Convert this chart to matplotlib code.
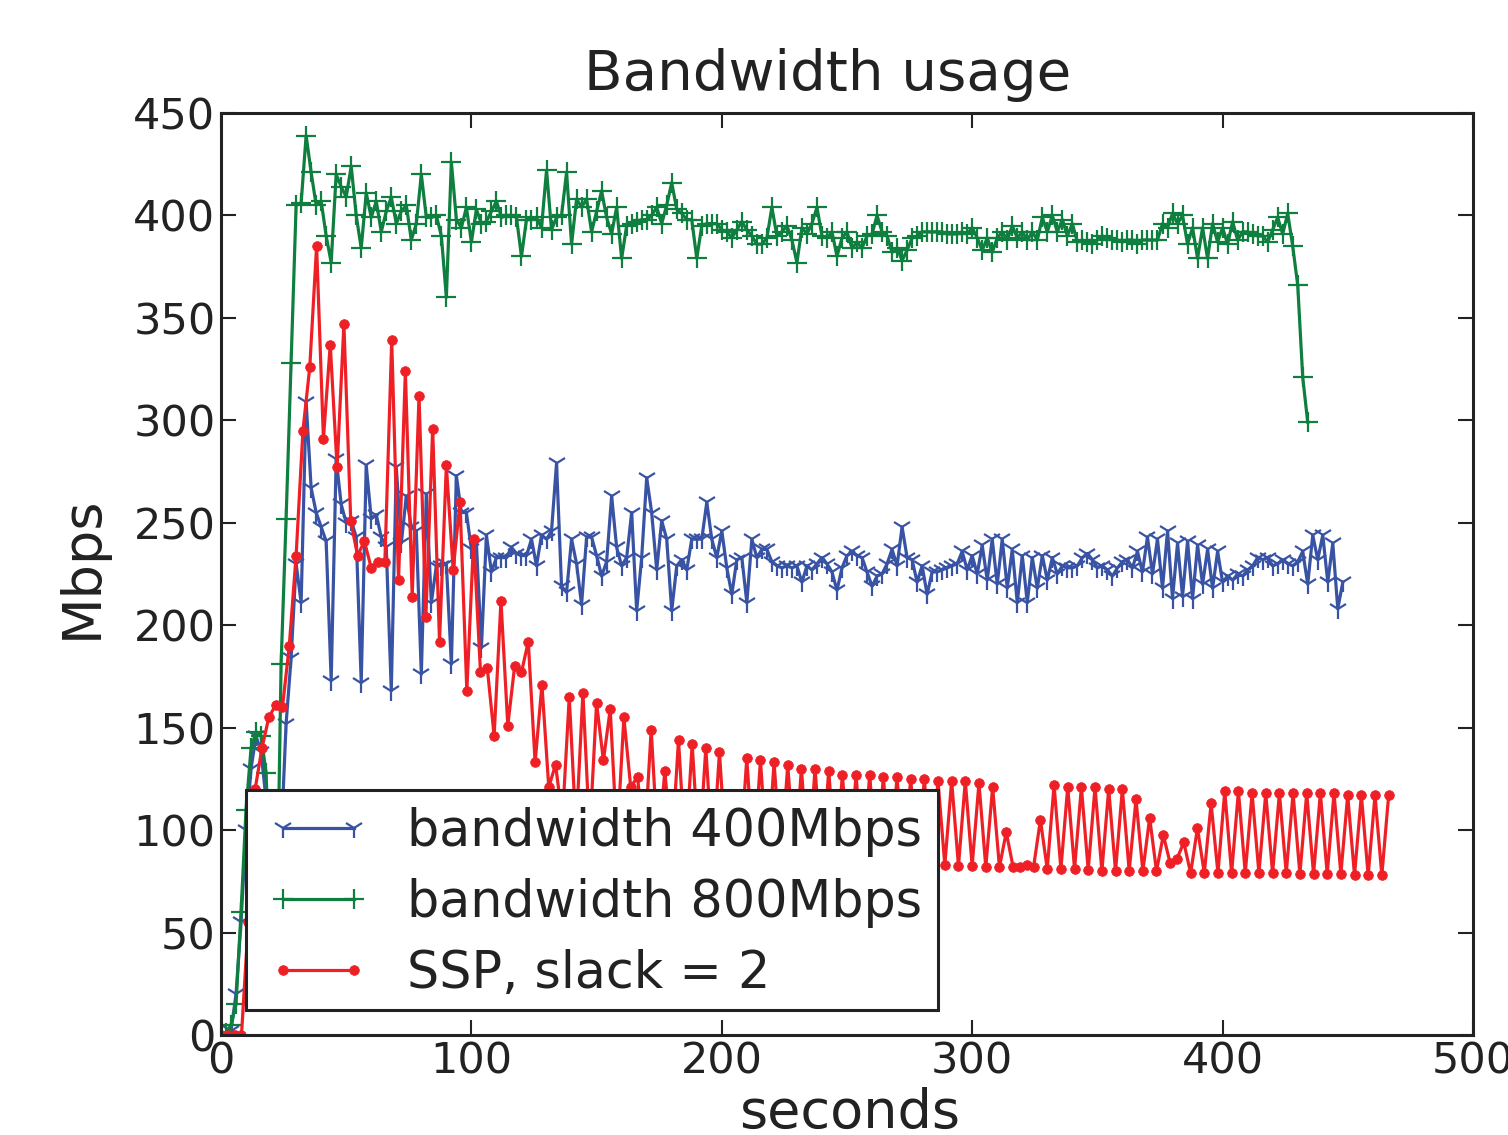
import numpy as np
import matplotlib
matplotlib.use("Agg")
import matplotlib.pyplot as plt
from matplotlib.patches import Rectangle

# ---------------- data ----------------
step_400 = 2.0      # seconds between samples, bandwidth 400Mbps
step_800 = 2.0      # seconds between samples, bandwidth 800Mbps
step_ssp = 2.727    # seconds between samples, SSP slack = 2

bw400 = [
    0, 0, 2, 20, 55, 100, 130, 146, 138, 115, 60, 20, 95, 152,
    184, 230, 211, 309, 267, 255, 248, 241, 173, 281, 259, 250, 251, 243, 172, 278,
    252, 254, 243, 238, 168, 277, 240, 263, 248, 246, 176, 264, 211, 229, 229, 230,
    181, 273, 255, 255, 237, 240, 189, 244, 226, 233, 233, 233, 238, 235, 234,
    234, 242, 229, 244, 242, 246, 279, 219, 216, 242, 230, 210, 243, 243, 234, 224,
    231, 263, 238, 229, 233, 255, 207, 233, 272, 255, 227, 251, 242, 207, 229, 232,
    227, 242, 242, 242, 260, 242, 233, 246, 228, 215, 232, 233, 211, 242, 233, 237,
    237, 231, 229, 228, 229, 228, 229, 221, 229, 227, 230, 233, 230, 226,
    217, 228, 234, 236, 234, 233, 226, 219, 224, 225, 230, 237, 229, 248, 233, 232,
    221, 229, 215, 226, 226, 227, 228, 229, 230, 236, 227,
    234, 225, 239, 222, 242, 220, 242, 218, 237, 211, 234, 211, 233, 218, 234, 222,
    233, 225, 229, 228, 228, 229, 233, 235, 232, 228, 229, 227, 224, 228, 231,
    232, 228, 236, 226, 243, 225, 242, 218, 246, 213, 240, 214, 241, 213, 239, 220,
    237, 218, 236, 221, 224, 222, 225, 224, 227, 229, 233, 232, 233, 229, 230, 232,
    230, 229, 231, 236, 220, 244, 232, 244, 221, 240, 208, 221,
]

bw800 = [
    0, 1, 5, 15, 60, 110, 140, 148, 146, 128, 60, 30, 181, 252,
    328, 405, 406, 439, 421, 405, 407, 390, 377, 420, 414, 409, 424, 400, 384, 411,
    399, 407, 392, 402, 409, 396, 402, 405, 388, 396, 420, 399, 399, 400, 390, 360,
    426, 398, 394, 404, 387, 403, 396, 397, 402, 407, 399, 400, 400, 399, 380, 398, 398,
    399, 394, 422, 393, 399, 400, 421, 386, 408, 404, 408, 392, 402, 412, 399, 391,
    404, 379, 395, 396, 397, 398, 398, 400, 404, 396, 405, 416, 403, 401, 398, 398,
    379, 395, 396, 396, 396, 393, 392, 389, 393, 397, 393, 390, 386, 386, 389, 404,
    390, 392, 395, 388, 377, 394, 391, 396, 404, 390, 389, 392, 380,
    389, 392, 384, 387, 384, 390, 391, 400, 392, 390, 382, 384, 378, 383, 389, 390,
    392, 392, 392, 392, 392, 391, 391, 391, 392, 391, 394, 389, 383, 389, 382, 389,
    392, 388, 395, 389, 392, 388, 392, 388, 399, 392, 400, 392, 398, 390, 396, 387,
    388, 387, 386, 388, 390, 389, 388, 388, 387, 388, 388, 386, 388, 388, 388, 388,
    396, 394, 401, 396, 400, 386, 394, 379, 394, 379, 396, 387, 394, 386, 397, 388,
    392, 392, 391, 390, 390, 387, 393, 399, 391, 401, 385, 366, 321, 299,
]

ssp = [
    0, 0, 0, 0, 55, 120, 140, 155, 161, 160, 190, 234, 295, 326, 385, 291,
    337, 277, 347, 251, 234, 241, 228, 231, 231, 339, 222, 324, 214, 312, 204, 296,
    192, 278, 227, 260, 168, 242, 177, 179, 146, 212, 151, 180, 177, 192, 133, 171,
    121, 132, 105, 165, 100, 167, 98, 162, 134, 159, 95, 155, 121, 126, 92, 149,
    90, 129, 90, 144, 88, 142, 88, 140, 87, 138, 86, 95, 86, 135, 85, 134,
    85, 133, 85, 132, 84, 130, 84, 130, 84, 129, 84, 127, 84, 127, 84, 127,
    83, 126, 83, 126, 83, 125, 83, 125, 83, 124, 83, 124, 82.5, 124, 82.5, 123,
    82, 121, 82, 99, 82, 82, 83, 82, 105, 81, 122, 81, 121, 81, 121, 80.5,
    121, 80, 120, 80, 120, 80, 115, 80, 106, 80, 97.5, 84, 86, 94, 79, 101,
    79, 113, 79, 119, 79, 119, 79, 118, 79, 118, 79, 118, 79, 118, 78.5, 118,
    78.5, 118, 78.5, 118, 78.5, 117, 78, 117, 78, 117, 78, 117,
]

labels = ["bandwidth 400Mbps", "bandwidth 800Mbps", "SSP, slack = 2"]
colors = ["#3953A4", "#0E7F3E", "#EE2026"]
x_ticks = [0, 100, 200, 300, 400, 500]
y_ticks = [0, 50, 100, 150, 200, 250, 300, 350, 400, 450]

# ---------------- figure ----------------
W, H, DPI = 1508, 1135, 100
fig = plt.figure(figsize=(W / DPI, H / DPI), dpi=DPI)
fig.patch.set_facecolor("white")
L, R, T, B = 221, 1473, 113, 1035
ax = fig.add_axes([L / W, 1 - B / H, (R - L) / W, (B - T) / H])

t400 = np.arange(len(bw400)) * step_400
t800 = np.arange(len(bw800)) * step_800
tssp = np.arange(len(ssp)) * step_ssp

ax.plot(t400, bw400, color=colors[0], lw=2.3, marker="1", ms=15, mew=1.6,
        label=labels[0])
ax.plot(t800, bw800, color=colors[1], lw=2.3, marker="+", ms=15, mew=1.6,
        label=labels[1])
ax.plot(tssp, ssp, color=colors[2], lw=2.3, marker="o", ms=7, mew=0.5,
        label=labels[2])

ax.set_xlim(0, 500)
ax.set_ylim(0, 450)
ax.set_xticks(x_ticks)
ax.set_yticks(y_ticks)
ax.tick_params(direction="in", length=11, width=1.5, top=True, right=True,
               labelsize=31, pad=4, colors="#222222", labelcolor="#222222")
for s in ax.spines.values():
    s.set_linewidth(2.2)
    s.set_color("#222222")

# legend box (frame drawn separately to match the reference proportions)
box = Rectangle(((246 - L) / (R - L), (B - 1010) / (B - T)),
                (938 - 246) / (R - L), (1010 - 790) / (B - T),
                transform=ax.transAxes, facecolor="white", edgecolor="#222222",
                linewidth=2.2, zorder=4.5, clip_on=False)
ax.add_patch(box)

leg = ax.legend(loc="lower left", bbox_to_anchor=(0.02, (B - 1020) / (B - T)),
                borderaxespad=0, fontsize=36.5, frameon=False,
                handlelength=2.0, handletextpad=0.75, labelspacing=0.41,
                borderpad=0.42, numpoints=2)
leg.set_zorder(5)
for txt in leg.get_texts():
    txt.set_color("#222222")

fig.text(828 / W, 1 - 90 / H, "Bandwidth usage", ha="center", va="baseline",
         fontsize=40.5, color="#222222")
fig.text(850 / W, 1 - 1128 / H, "seconds", ha="center", va="baseline",
         fontsize=39, color="#222222")
fig.text(82 / W, 1 - 567 / H, "Mbps", ha="center", va="center", rotation=90,
         fontsize=39, color="#222222")

fig.savefig("out.png", dpi=DPI)
